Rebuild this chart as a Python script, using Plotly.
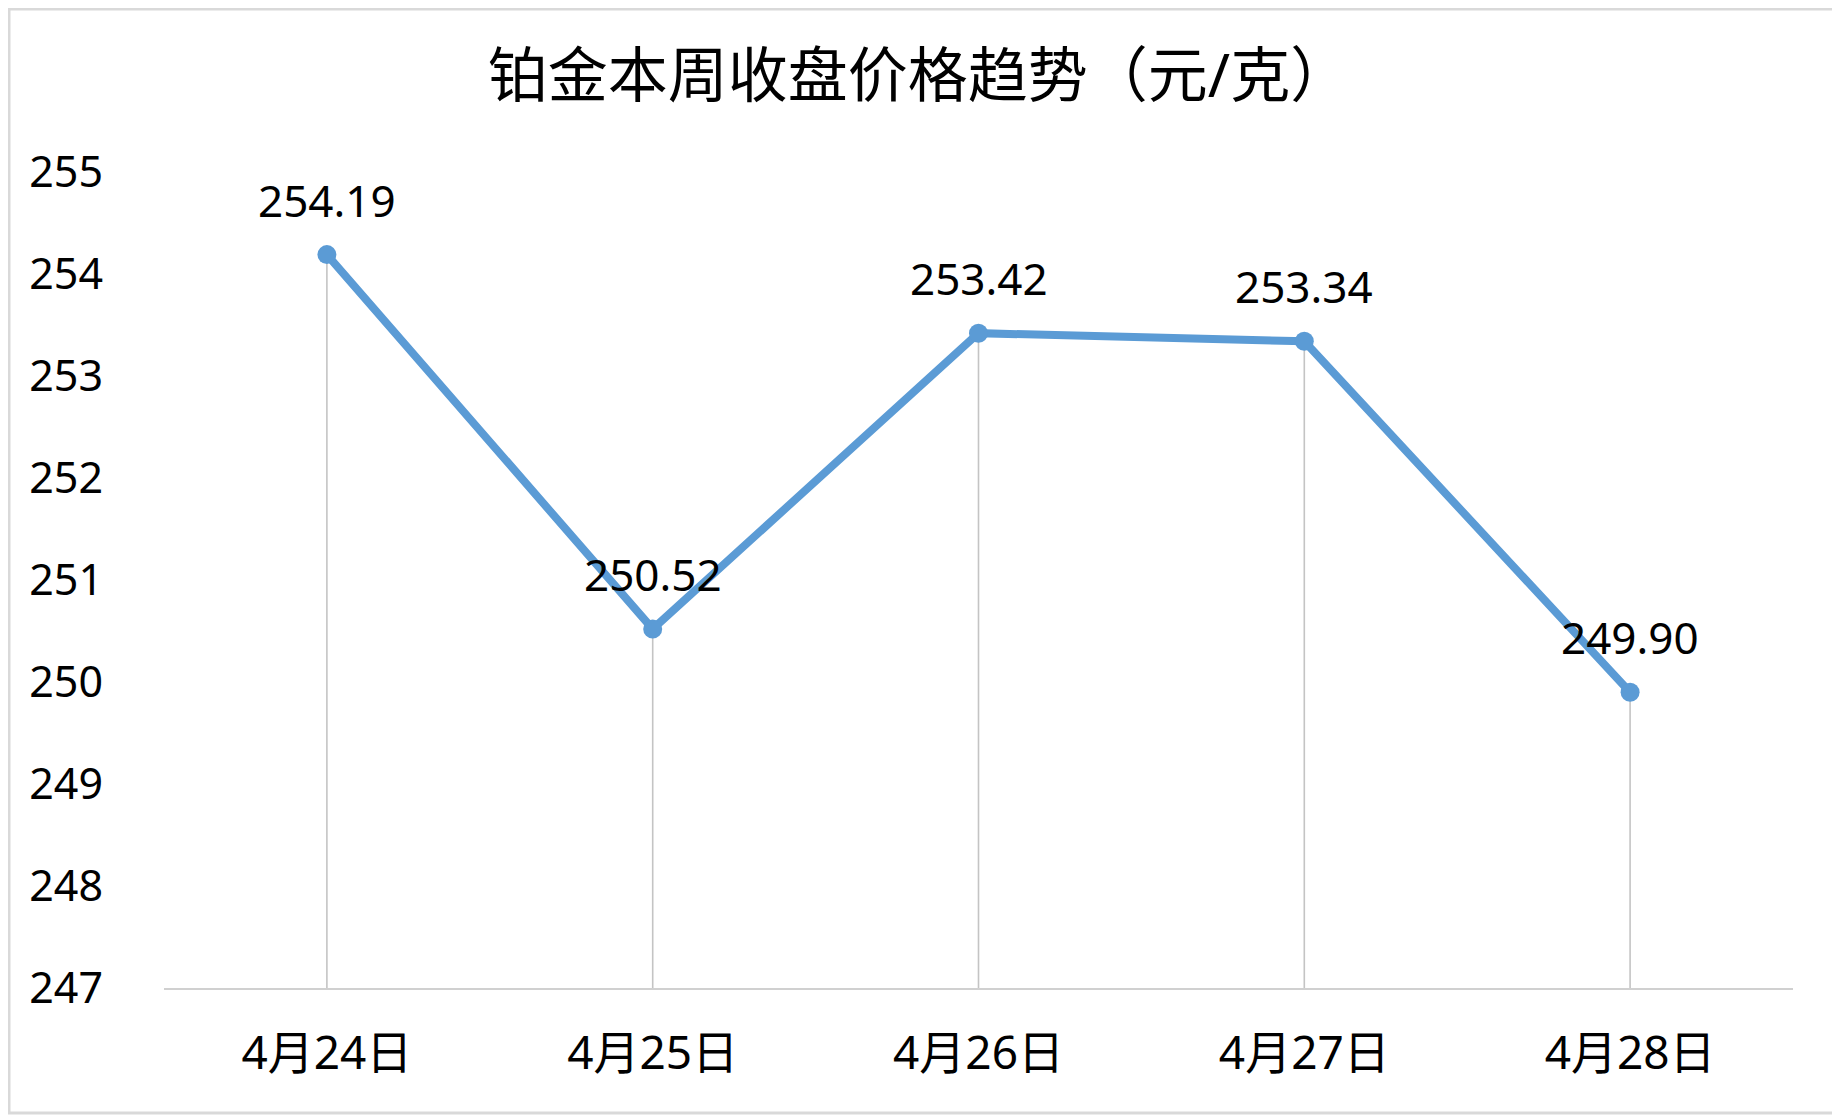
import plotly.graph_objects as go

categories = ["4月24日", "4月25日", "4月26日", "4月27日", "4月28日"]
prices = [254.19, 250.52, 253.42, 253.34, 249.90]
labels = ["254.19", "250.52", "253.42", "253.34", "249.90"]
y_ticks = [247, 248, 249, 250, 251, 252, 253, 254, 255]
y_min, y_max = 247, 255

# page body has an 8px margin, so the figure is offset by 8px
OFF = 8
W, H = 1840 - OFF, 1116 - OFF
ML, MR, MT, MB = 164 - OFF, 47, 172 - OFF, 128
FONT = "Noto Sans, Noto Sans CJK SC, sans-serif"
BLUE = "#5B9BD5"

fig = go.Figure()

# drop lines from each point to the axis
fig.add_trace(go.Scatter(
    x=categories, y=prices, mode="markers",
    marker=dict(size=1, color="rgba(0,0,0,0)"),
    error_y=dict(type="data", symmetric=False,
                 array=[0] * len(prices),
                 arrayminus=[p - y_min for p in prices],
                 color="#c4c4c4", thickness=1.6, width=0),
    hoverinfo="skip", showlegend=False,
))

fig.add_trace(go.Scatter(
    x=categories, y=prices, mode="lines+markers",
    line=dict(color=BLUE, width=8),
    marker=dict(size=19, color=BLUE),
    showlegend=False,
))

for c, p, t in zip(categories, prices, labels):
    fig.add_annotation(x=c, y=p, text=t, showarrow=False, yshift=55,
                       font=dict(family=FONT, size=44, color="#000000"))

pw = W - ML - MR
ph = H - MT - MB
fig.add_shape(type="rect", xref="paper", yref="paper",
              x0=(-ML + 1) / pw, x1=(pw + MR - 3) / pw,
              y0=(-MB + 3) / ph, y1=(ph + MT - 1) / ph,
              line=dict(color="#d9d9d9", width=3), layer="below")

fig.update_layout(
    width=W, height=H,
    margin=dict(l=ML, r=MR, t=MT, b=MB),
    paper_bgcolor="white", plot_bgcolor="white",
    title=dict(text="铂金本周收盘价格趋势（元/克）",
               x=(919 - OFF) / W, xanchor="center",
               y=1 - (76 - OFF) / H, yanchor="middle",
               font=dict(family=FONT, size=60, color="#000000")),
    font=dict(family=FONT, color="#000000"),
)

fig.update_xaxes(
    type="category", range=[-0.5, len(categories) - 0.5],
    showgrid=False, showline=True, linecolor="#d0d0d0", linewidth=2,
    ticks="", tickfont=dict(family=FONT, size=46, color="#000000"),
    ticklabelstandoff=24, zeroline=False,
)
fig.update_yaxes(
    range=[y_min, y_max], tickvals=y_ticks,
    ticktext=[str(v) for v in y_ticks],
    showgrid=False, showline=False, zeroline=False, ticks="",
    tickfont=dict(family=FONT, size=43, color="#000000"),
    ticklabelstandoff=60,
)

fig.write_html("out.html")
